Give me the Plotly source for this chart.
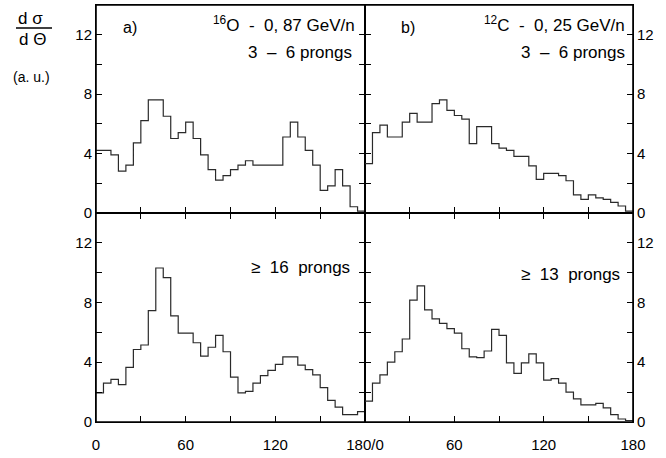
import plotly.graph_objects as go

# ---- data ----
theta_edges = list(range(0, 181, 5))  # 36 bins of 5 degrees

o16_3to6 = [4.2, 4.2, 3.9, 2.8, 3.2, 4.7, 6.2, 7.6, 7.6, 6.5, 5.0, 5.4, 6.1, 5.0, 3.9, 2.9,
            2.2, 2.5, 2.9, 3.2, 3.5, 3.2, 3.2, 3.2, 3.2, 5.1, 6.1, 5.1, 4.2, 3.2, 1.5, 1.8,
            2.9, 1.8, 0.4, 0.1]
c12_3to6 = [3.3, 5.4, 5.9, 5.1, 5.1, 6.1, 6.7, 6.1, 6.1, 7.35, 7.6, 6.9, 6.55, 6.3, 4.65, 5.8,
            5.8, 4.65, 4.35, 4.2, 3.8, 3.8, 3.15, 2.25, 2.65, 2.65, 2.5, 2.15, 1.2, 0.9, 1.2, 1.0,
            0.9, 0.7, 0.45, 0.1]
o16_ge16 = [1.95, 2.6, 2.85, 2.5, 3.65, 4.85, 5.15, 7.45, 10.3, 9.65, 7.1, 5.95, 5.95, 5.3, 4.4, 5.0,
            5.8, 4.7, 3.0, 1.95, 2.05, 2.6, 3.1, 3.45, 3.85, 4.35, 4.35, 3.8, 3.5, 3.15, 2.3, 1.45,
            1.0, 0.5, 0.5, 0.7]
c12_ge13 = [1.4, 2.6, 3.15, 4.0, 4.7, 5.55, 8.15, 9.1, 7.5, 6.9, 6.6, 6.25, 5.95, 4.9, 4.35, 4.3,
            4.75, 6.2, 5.8, 3.95, 3.25, 3.95, 4.55, 3.95, 2.8, 2.9, 2.6, 2.0, 1.55, 1.15, 1.15, 1.25,
            0.95, 0.5, 0.2, 0.1]

x_tickvals_left = [0, 60, 120, 180]
x_ticktext_left = ["0", "60", "120", "180/0"]
x_tickvals_right = [60, 120, 180]
x_ticktext_right = ["60", "120", "180"]
y_tickvals = [0, 4, 8, 12]
y_ticktext = ["0", "4", "8", "12"]

# ---- layout geometry ----
W, H = 666, 458
ML, MR, MT, MB = 96, 33, 5, 36
PW, PH = W - ML - MR, H - MT - MB
XSPLIT = 0.501
YSPLIT = 0.502

def px(x):
    return (x - ML) / PW

def py(y):
    return (H - MB - y) / PH

FONT = "Liberation Sans, Arial, sans-serif"
LINE_COL = "#2a2a2a"

fig = go.Figure()

panels = [
    (o16_3to6, "x", "y"),
    (c12_3to6, "x2", "y2"),
    (o16_ge16, "x3", "y3"),
    (c12_ge13, "x4", "y4"),
]
for vals, xa, ya in panels:
    fig.add_trace(go.Scatter(
        x=theta_edges, y=vals + [vals[-1]], mode="lines",
        line=dict(shape="hv", color=LINE_COL, width=1.2),
        xaxis=xa, yaxis=ya, showlegend=False, hoverinfo="skip"))

tick_minor_x = dict(dtick=30, tick0=0, ticks="inside", ticklen=6, tickwidth=1.2, tickcolor="black")
tick_minor_y = dict(dtick=2, tick0=0, ticks="inside", ticklen=6, tickwidth=1.2, tickcolor="black")

common_x = dict(range=[0, 180], ticks="inside", ticklen=6, automargin=False,
                tickwidth=1.2, tickcolor="black", showline=True, linecolor="black",
                linewidth=1, showgrid=False, zeroline=False, minor=tick_minor_x,
                tickfont=dict(family=FONT, size=15, color="black"))
common_y = dict(range=[0, 14], tickvals=y_tickvals, ticktext=y_ticktext, ticks="inside",
                ticklen=6, tickwidth=1.2, tickcolor="black", showline=True, automargin=False,
                linecolor="black", linewidth=1, showgrid=False, zeroline=False,
                mirror="ticks", minor=tick_minor_y,
                tickfont=dict(family=FONT, size=15, color="black"))

fig.update_layout(
    width=W, height=H,
    margin=dict(l=ML, r=MR, t=MT, b=MB),
    paper_bgcolor="white", plot_bgcolor="white",
    font=dict(family=FONT, size=15, color="black"),
    xaxis=dict(common_x, domain=[0, XSPLIT], anchor="y", mirror=True,
               tickvals=x_tickvals_left, showticklabels=False),
    xaxis2=dict(common_x, domain=[XSPLIT, 1], anchor="y2", mirror=True,
                tickvals=x_tickvals_left, showticklabels=False),
    xaxis3=dict(common_x, domain=[0, XSPLIT], anchor="y3", mirror="ticks",
                tickvals=x_tickvals_left, ticktext=x_ticktext_left, ticklabelstandoff=9),
    xaxis4=dict(common_x, domain=[XSPLIT, 1], anchor="y4", mirror="ticks",
                tickvals=x_tickvals_right, ticktext=x_ticktext_right, ticklabelstandoff=9),
    yaxis=dict(common_y, domain=[YSPLIT, 1], anchor="x", side="left"),
    yaxis2=dict(common_y, domain=[YSPLIT, 1], anchor="x2", side="right"),
    yaxis3=dict(common_y, domain=[0, YSPLIT], anchor="x3", side="left"),
    yaxis4=dict(common_y, domain=[0, YSPLIT], anchor="x4", side="right"),
)

NB = "\u00a0"
ann = [
    ("a)", 130, 27, "center", 16),
    ("<sup>16</sup>O" + NB + " -" + NB + " 0, 87 GeV/n", 357, 24, "right", 17),
    ("3" + NB + " \u2013" + NB + " 6 prongs", 354, 53, "right", 17),
    ("b)", 408, 27, "center", 16),
    ("<sup>12</sup>C" + NB + " -" + NB + " 0, 25 GeV/n", 627, 24, "right", 17),
    ("3" + NB + " \u2013" + NB + " 6 prongs", 627, 53, "right", 17),
    ("\u2265" + NB + " 16" + NB + " prongs", 352, 267, "right", 17),
    ("\u2265" + NB + " 13" + NB + " prongs", 622, 274, "right", 17),
    ("d" + NB + "\u03c3", 30, 18, "center", 17),
    ("d" + NB + "\u0398", 32, 39, "center", 17),
    ("(a. u.)", 31, 77, "center", 14),
]
for text, x, y, anc, size in ann:
    fig.add_annotation(text=text, x=px(x), y=py(y), xref="paper", yref="paper",
                       xanchor=anc, yanchor="middle", showarrow=False,
                       font=dict(family=FONT, size=size, color="black"))

# fraction bar of the y-axis title
fig.add_shape(type="line", xref="paper", yref="paper",
              x0=px(16), x1=px(52), y0=py(28), y1=py(28),
              line=dict(color="black", width=1.6))
# heavier outer frame
fig.add_shape(type="rect", xref="paper", yref="paper", x0=0, x1=1, y0=0, y1=1,
              line=dict(color="black", width=1.6), layer="above")

fig.write_html("out.html", config={"displayModeBar": False},
               post_script="document.body.style.margin='0';")
